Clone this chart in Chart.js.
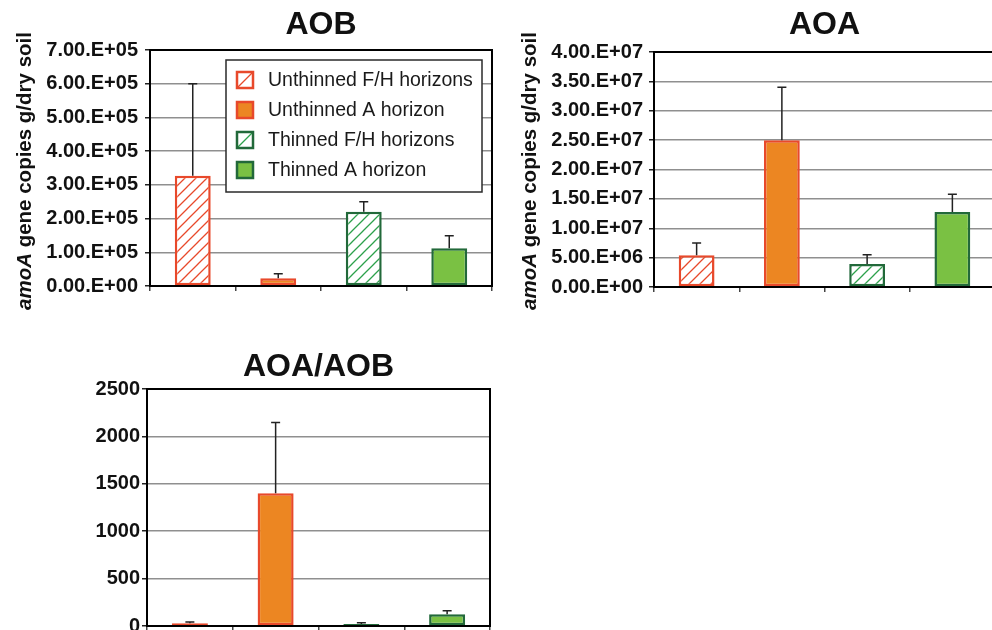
<!DOCTYPE html>
<html>
<head>
<meta charset="utf-8">
<script src="https://cdn.jsdelivr.net/npm/chart.js@4/dist/chart.umd.min.js"></script>
<style>
  html, body { margin: 0; padding: 0; background: #fff; }
  body { width: 992px; height: 630px; overflow: hidden; position: relative; }
  canvas { position: absolute; }
</style>
</head>
<body>
<canvas id="aobChart" width="500" height="310" style="left:0;top:0"></canvas>
<canvas id="aoaChart" width="500" height="310" style="left:500px;top:0"></canvas>
<canvas id="ratioChart" width="500" height="300" style="left:0;top:330px"></canvas>
<script>
// ===== amoA gene copies: AOB, AOA and AOA/AOB ratio =====

const categories = ['Unthinned F/H horizons', 'Unthinned A horizon', 'Thinned F/H horizons', 'Thinned A horizon'];

// AOB copies per g dry soil (mean, upper error)
const aobMeans = [3.27e5, 0.23e5, 2.2e5, 1.12e5];
const aobErrors = [2.73e5, 0.13e5, 0.3e5, 0.37e5];
const aobTicks = ['0.00.E+00', '1.00.E+05', '2.00.E+05', '3.00.E+05', '4.00.E+05', '5.00.E+05', '6.00.E+05', '7.00.E+05'];

// AOA copies per g dry soil
const aoaMeans = [5.4e6, 2.5e7, 3.9e6, 1.275e7];
const aoaErrors = [2.1e6, 9.0e6, 1.6e6, 3.05e6];
const aoaTicks = ['0.00.E+00', '5.00.E+06', '1.00.E+07', '1.50.E+07', '2.00.E+07', '2.50.E+07', '3.00.E+07', '3.50.E+07', '4.00.E+07'];

// AOA/AOB ratio
const ratioMeans = [28, 1400, 21, 123];
const ratioErrors = [14, 747, 14, 39];
const ratioTicks = ['0', '500', '1000', '1500', '2000', '2500'];

const FONT = '"Liberation Sans", Arial, sans-serif';
const RED = '#e8492b';
const ORANGE = '#ec8622';
const DKGREEN = '#22693a';
const GREEN = '#7ac143';
const HATCH_GREEN = '#2da14b';

// Diagonal "/" hatch on white
function hatch(color) {
  const c = document.createElement('canvas');
  c.width = c.height = 11;
  const g = c.getContext('2d');
  g.fillStyle = '#fff';
  g.fillRect(0, 0, 11, 11);
  g.strokeStyle = color;
  g.lineWidth = 1.3;
  g.beginPath();
  g.moveTo(-1, 12); g.lineTo(12, -1);
  g.moveTo(-1, 1); g.lineTo(1, -1);
  g.moveTo(10, 12); g.lineTo(12, 10);
  g.stroke();
  return g.createPattern(c, 'repeat');
}

const fills = [hatch(RED), ORANGE, hatch(HATCH_GREEN), GREEN];
const borders = [RED, RED, DKGREEN, DKGREEN];
const hatched = [true, false, true, false];
const hatchColors = [RED, null, HATCH_GREEN, null];

function errorBarsPlugin(errors) {
  return {
    id: 'errorBars',
    afterDatasetsDraw(chart) {
      const ctx = chart.ctx;
      const meta = chart.getDatasetMeta(0);
      const y = chart.scales.y;
      const data = chart.data.datasets[0].data;
      ctx.save();
      ctx.strokeStyle = '#222';
      ctx.lineWidth = 1.5;
      meta.data.forEach((bar, i) => {
        const top = y.getPixelForValue(data[i] + errors[i]);
        const base = y.getPixelForValue(data[i]);
        ctx.beginPath();
        ctx.moveTo(bar.x, base);
        ctx.lineTo(bar.x, top);
        ctx.moveTo(bar.x - 4.5, top);
        ctx.lineTo(bar.x + 4.5, top);
        ctx.stroke();
      });
      ctx.restore();
    }
  };
}

const framePlugin = {
  id: 'frame',
  afterDraw(chart) {
    const { ctx, chartArea: a } = chart;
    ctx.save();
    ctx.strokeStyle = '#000';
    ctx.lineWidth = 2;
    ctx.strokeRect(a.left, a.top, a.right - a.left, a.bottom - a.top);
    ctx.restore();
  }
};

function yTitlePlugin(x, y) {
  return {
    id: 'yTitle',
    afterDraw(chart) {
      const ctx = chart.ctx;
      const italic = 'italic bold 20.5px ' + FONT;
      const plain = 'bold 20.5px ' + FONT;
      const rest = ' gene copies g/dry soil';
      ctx.save();
      ctx.translate(x, y);
      ctx.rotate(-Math.PI / 2);
      ctx.fillStyle = '#111';
      ctx.textBaseline = 'middle';
      ctx.textAlign = 'left';
      ctx.font = italic;
      const w1 = ctx.measureText('amoA').width;
      ctx.font = plain;
      const w2 = ctx.measureText(rest).width;
      const start = -(w1 + w2) / 2;
      ctx.font = italic;
      ctx.fillText('amoA', start, 0);
      ctx.font = plain;
      ctx.fillText(rest, start + w1, 0);
      ctx.restore();
    }
  };
}

const legendPlugin = {
  id: 'legendBox',
  afterDraw(chart) {
    const ctx = chart.ctx;
    const bx = 226, by = 60, bw = 256, bh = 132;
    ctx.save();
    ctx.fillStyle = '#fff';
    ctx.fillRect(bx, by, bw, bh);
    ctx.strokeStyle = '#2a2a2a';
    ctx.lineWidth = 1.5;
    ctx.strokeRect(bx, by, bw, bh);
    categories.forEach((label, i) => {
      const cy = by + 20 + i * 30;
      const sx = 237, sy = cy - 8, s = 16;
      if (hatched[i]) {
        ctx.fillStyle = '#fff';
        ctx.fillRect(sx, sy, s, s);
        ctx.strokeStyle = hatchColors[i];
        ctx.lineWidth = 1.2;
        ctx.beginPath();
        ctx.moveTo(sx, sy + s);
        ctx.lineTo(sx + s, sy);
        ctx.stroke();
      } else {
        ctx.fillStyle = fills[i];
        ctx.fillRect(sx, sy, s, s);
      }
      ctx.strokeStyle = borders[i];
      ctx.lineWidth = 2.5;
      ctx.strokeRect(sx, sy, s, s);
      ctx.fillStyle = '#1a1a1a';
      ctx.font = '19.5px ' + FONT;
      ctx.textBaseline = 'middle';
      ctx.textAlign = 'left';
      ctx.fillText(label, 268, cy + 1);
    });
    ctx.restore();
  }
};

function makeChart(id, cfg) {
  const ctx = document.getElementById(id).getContext('2d');
  const plugins = [errorBarsPlugin(cfg.errors), framePlugin];
  if (cfg.yTitle) plugins.push(yTitlePlugin(cfg.yTitle[0], cfg.yTitle[1]));
  if (cfg.legend) plugins.push(legendPlugin);

  return new Chart(ctx, {
    type: 'bar',
    data: {
      labels: categories,
      datasets: [{
        data: cfg.means,
        backgroundColor: fills,
        borderColor: borders,
        borderWidth: 2.5,
        borderSkipped: false,
        categoryPercentage: 1,
        barPercentage: 0.42
      }]
    },
    options: {
      responsive: false,
      animation: false,
      devicePixelRatio: 1,
      layout: { padding: { left: 0, right: cfg.padRight, top: 0, bottom: 0 } },
      plugins: {
        legend: { display: false },
        tooltip: { enabled: false },
        title: {
          display: true,
          text: cfg.title,
          fullSize: false,
          color: '#111',
          font: { family: FONT, size: 32, weight: 'bold' },
          padding: { top: cfg.titlePad[0], bottom: cfg.titlePad[1] }
        }
      },
      scales: {
        x: {
          ticks: { display: false },
          grid: {
            display: true,
            drawOnChartArea: false,
            drawTicks: true,
            tickLength: 5,
            tickColor: '#444',
            lineWidth: 1.5
          },
          border: { display: true, color: '#000', width: 2 },
          afterFit: s => { s.height = cfg.xHeight; }
        },
        y: {
          min: 0,
          max: cfg.max,
          ticks: {
            stepSize: cfg.step,
            autoSkip: false,
            padding: cfg.tickPad,
            color: '#111',
            font: { family: FONT, size: 20, weight: 'bold' },
            callback: (v, i) => cfg.ticks[i]
          },
          grid: {
            color: '#8f8f8f',
            lineWidth: 1.5,
            tickLength: 5,
            tickColor: '#222'
          },
          border: { display: true, color: '#000', width: 2 },
          afterFit: s => {
            s.width = cfg.yWidth;
            s.paddingTop = 0;
            s.paddingBottom = 0;
          }
        }
      }
    },
    plugins: plugins
  });
}

makeChart('aobChart', {
  title: 'AOB', titlePad: [6, 5.6],
  means: aobMeans, errors: aobErrors, ticks: aobTicks,
  max: 7e5, step: 1e5,
  yWidth: 150, padRight: 8, xHeight: 24, tickPad: 7,
  yTitle: [25, 171], legend: true
});

makeChart('aoaChart', {
  title: 'AOA', titlePad: [6, 7.6],
  means: aoaMeans, errors: aoaErrors, ticks: aoaTicks,
  max: 4e7, step: 5e6,
  yWidth: 154, padRight: 5, xHeight: 23, tickPad: 6,
  yTitle: [30, 171], legend: false
});

makeChart('ratioChart', {
  title: 'AOA/AOB', titlePad: [17.8, 2.8],
  means: ratioMeans, errors: ratioErrors, ticks: ratioTicks,
  max: 2500, step: 500,
  yWidth: 147, padRight: 10, xHeight: 4, tickPad: 2,
  yTitle: null, legend: false
});
</script>
</body>
</html>
